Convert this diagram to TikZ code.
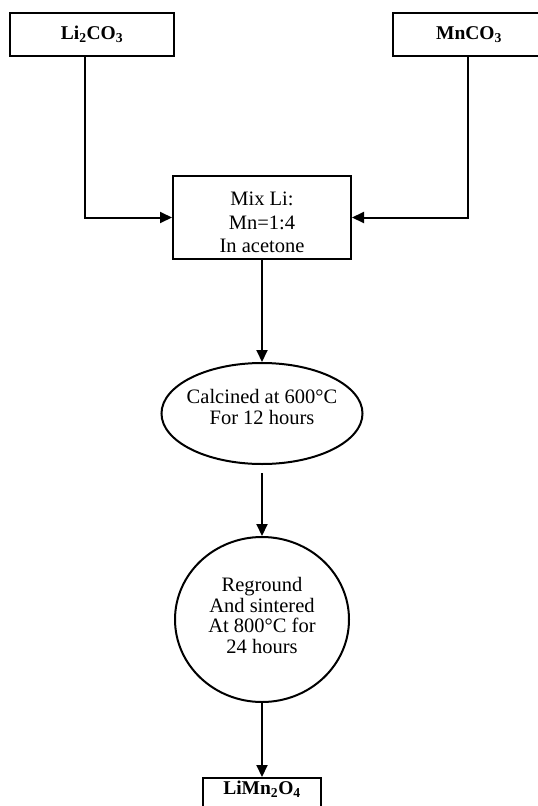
\documentclass[tikz,border=0pt]{standalone}
\usepackage{fontspec}
\setmainfont{Liberation Serif}
\usetikzlibrary{arrows.meta,shapes.geometric}

% shift a block of lines vertically; the block takes no room, so the
% node keeps the size given by its minimum width and height
\newcommand{\shiftlines}[2]{\makebox[0pt]{\raisebox{#1}[0pt][0pt]{\begin{tabular}{@{}c@{}}#2\end{tabular}}}}

\begin{document}
\begin{tikzpicture}[x=1pt,y=-1pt,
  line width=2pt,
  boxnode/.style={draw, rectangle, inner sep=0pt, align=center,
    font=\fontsize{19.5pt}{23.5pt}\selectfont},
  ovalnode/.style={draw, ellipse, inner sep=0pt, align=center},
  arr/.style={-{Triangle[length=12pt,width=11pt]}, line width=2pt},
]
\useasboundingbox (0,0) rectangle (538,806);

% starting materials
\node[boxnode, minimum width=164pt, minimum height=43pt] (li) at (92,34.5)
  {\textbf{Li\textsubscript{2}CO\textsubscript{3}}};
\node[boxnode, minimum width=152pt, minimum height=43pt] (mn) at (469,34.5)
  {\textbf{MnCO\textsubscript{3}}};

% mixing step
\node[boxnode, minimum width=178pt, minimum height=83pt,
  font=\fontsize{20.5pt}{23.5pt}\selectfont] (mix) at (262,217.5)
  {\shiftlines{-12pt}{Mix Li:\\Mn=1:4\\In acetone}};

% calcination
\node[ovalnode, minimum width=201pt, minimum height=101pt,
  font=\fontsize{20.5pt}{21pt}\selectfont] (calc) at (262,413.5)
  {\shiftlines{-1pt}{Calcined at 600°C\\For 12 hours}};

% regrinding and sintering
\node[ovalnode, minimum width=174pt, minimum height=165pt,
  font=\fontsize{20.5pt}{20.5pt}\selectfont] (sinter) at (262,619.5)
  {\shiftlines{-4pt}{Reground\\And sintered\\At 800°C for\\24 hours}};

% product
\node[boxnode, minimum width=118pt, minimum height=43pt, anchor=north] (prod) at (262,777)
  {\makebox[0pt]{\raisebox{5pt}[0pt][0pt]{\textbf{LiMn\textsubscript{2}O\textsubscript{4}}}}};

% connectors
\draw[arr] ([xshift=-7pt]li.south) |- (mix.west);
\draw[arr] ([xshift=-1pt]mn.south) |- (mix.east);
\draw[arr] (mix.south) -- (calc.north);
\draw[arr] ([yshift=-8pt]calc.south) -- (sinter.north);
\draw[arr] (sinter.south) -- (prod.north);
\end{tikzpicture}
\end{document}
